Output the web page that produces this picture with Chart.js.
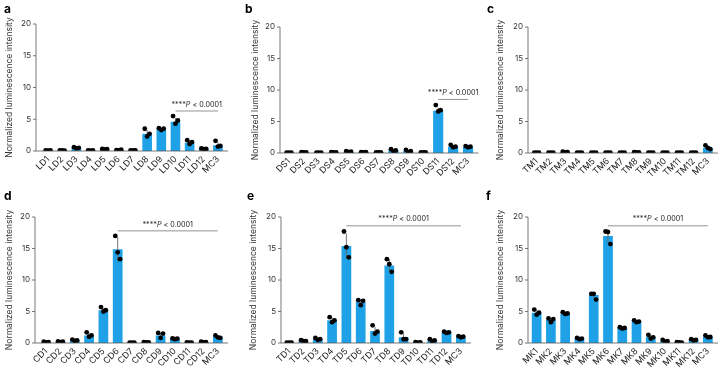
<!DOCTYPE html>
<html>
<head>
<meta charset="utf-8">
<script src="https://cdn.jsdelivr.net/npm/chart.js@4.4.0/dist/chart.umd.min.js"></script>
<style>
body { margin: 0; background: #fff; width: 720px; height: 373px; position: relative; overflow: hidden; }
canvas { position: absolute; }
.tag { position: absolute; font: bold 12px Inter, sans-serif; color: #000; }
</style>
</head>
<body>
<canvas id="pa" width="240" height="186" style="left:0;top:0"></canvas>
<canvas id="pb" width="240" height="186" style="left:240px;top:0"></canvas>
<canvas id="pc" width="240" height="186" style="left:480px;top:0"></canvas>
<canvas id="pd" width="240" height="187" style="left:0;top:186px"></canvas>
<canvas id="pe" width="240" height="187" style="left:240px;top:186px"></canvas>
<canvas id="pf" width="240" height="187" style="left:480px;top:186px"></canvas>
<div class="tag" style="left:4px;top:1px">a</div>
<div class="tag" style="left:245px;top:1px">b</div>
<div class="tag" style="left:487px;top:1px">c</div>
<div class="tag" style="left:4px;top:188px">d</div>
<div class="tag" style="left:247px;top:188px">e</div>
<div class="tag" style="left:486px;top:188px">f</div>
<script>
const BLUE = '#1ea1e6';
const yTicks = [0, 5, 10, 15, 20];
const yTitle = 'Normalized luminescence intensity';

// a
const labelsA = ['LD1','LD2','LD3','LD4','LD5','LD6','LD7','LD8','LD9','LD10','LD11','LD12','MC3'];
const meanA = [0.1, 0.1, 0.5, 0.1, 0.3, 0.15, 0.1, 2.7, 3.4, 4.6, 1.3, 0.35, 0.9];
const repA1 = [0.1, 0.1, 0.6, 0.1, 0.35, 0.15, 0.1, 3.5, 3.6, 5.5, 1.7, 0.4, 1.6];
const repA2 = [0.05, 0.1, 0.4, 0.05, 0.25, 0.1, 0.1, 2.3, 3.3, 4.3, 1.1, 0.3, 0.7];
const repA3 = [0.1, 0.05, 0.5, 0.1, 0.3, 0.2, 0.1, 2.7, 3.5, 4.8, 1.4, 0.35, 0.8];
const errA = [0.05, 0.05, 0.1, 0.05, 0.05, 0.05, 0.02, 0.6, 0.2, 0.6, 0.3, 0.05, 0.5];

// b
const labelsB = ['DS1','DS2','DS3','DS4','DS5','DS6','DS7','DS8','DS9','DS10','DS11','DS12','MC3'];
const meanB = [0.05, 0.1, 0.05, 0.1, 0.2, 0.15, 0.1, 0.4, 0.3, 0.1, 6.7, 1.0, 0.95];
const repB1 = [0.05, 0.15, 0.05, 0.15, 0.3, 0.15, 0.1, 0.6, 0.5, 0.1, 7.6, 1.3, 1.1];
const repB2 = [0.05, 0.1, 0.05, 0.1, 0.15, 0.1, 0.1, 0.3, 0.1, 0.1, 6.6, 0.9, 0.9];
const repB3 = [0.05, 0.1, 0.05, 0.1, 0.2, 0.15, 0.1, 0.4, 0.3, 0.1, 6.8, 1.0, 1.0];
const errB = [0.02, 0.03, 0.02, 0.03, 0.08, 0.03, 0.02, 0.15, 0.2, 0.02, 0.5, 0.2, 0.1];

// c
const labelsC = ['TM1','TM2','TM3','TM4','TM5','TM6','TM7','TM8','TM9','TM10','TM11','TM12','MC3'];
const meanC = [0.05, 0.05, 0.15, 0.05, 0.05, 0.05, 0.05, 0.1, 0.05, 0.05, 0.05, 0.05, 0.8];
const repC1 = [0.05, 0.05, 0.2, 0.05, 0.05, 0.05, 0.05, 0.12, 0.05, 0.05, 0.05, 0.05, 1.2];
const repC2 = [0.05, 0.05, 0.1, 0.05, 0.05, 0.05, 0.05, 0.08, 0.05, 0.05, 0.05, 0.05, 0.8];
const repC3 = [0.05, 0.05, 0.15, 0.05, 0.05, 0.05, 0.05, 0.1, 0.05, 0.05, 0.05, 0.05, 0.6];
const errC = [0.02, 0.02, 0.05, 0.02, 0.02, 0.02, 0.02, 0.03, 0.02, 0.02, 0.02, 0.02, 0.3];

// d
const labelsD = ['CD1','CD2','CD3','CD4','CD5','CD6','CD7','CD8','CD9','CD10','CD11','CD12','MC3'];
const meanD = [0.15, 0.2, 0.4, 1.2, 5.2, 14.9, 0.05, 0.1, 1.2, 0.7, 0.05, 0.15, 1.0];
const repD1 = [0.2, 0.25, 0.55, 1.7, 5.7, 17.0, 0.05, 0.15, 1.6, 0.75, 0.1, 0.2, 1.2];
const repD2 = [0.1, 0.15, 0.35, 1.0, 5.0, 14.4, 0.05, 0.1, 0.8, 0.6, 0.05, 0.1, 0.9];
const repD3 = [0.15, 0.2, 0.4, 1.2, 5.2, 13.3, 0.05, 0.1, 1.5, 0.7, 0.05, 0.15, 0.8];
const errD = [0.05, 0.05, 0.1, 0.35, 0.35, 1.9, 0.02, 0.03, 0.4, 0.08, 0.03, 0.05, 0.2];

// e
const labelsE = ['TD1','TD2','TD3','TD4','TD5','TD6','TD7','TD8','TD9','TD10','TD11','TD12','MC3'];
const meanE = [0.05, 0.35, 0.6, 3.6, 15.4, 6.5, 1.9, 12.3, 0.9, 0.1, 0.4, 1.7, 1.0];
const repE1 = [0.05, 0.45, 0.8, 4.1, 17.7, 6.8, 2.8, 13.3, 1.7, 0.15, 0.6, 1.8, 1.1];
const repE2 = [0.05, 0.3, 0.5, 3.3, 15.2, 6.0, 1.5, 12.5, 0.6, 0.05, 0.3, 1.6, 0.9];
const repE3 = [0.05, 0.3, 0.6, 3.6, 13.6, 6.7, 1.8, 11.3, 0.6, 0.1, 0.4, 1.7, 1.0];
const errE = [0.02, 0.08, 0.15, 0.4, 2.0, 0.45, 0.7, 1.0, 0.6, 0.05, 0.15, 0.1, 0.1];

// f
const labelsF = ['MK1','MK2','MK3','MK4','MK5','MK6','MK7','MK8','MK9','MK10','MK11','MK12','MC3'];
const meanF = [4.8, 3.7, 4.6, 0.7, 7.6, 17.0, 2.4, 3.4, 1.0, 0.3, 0.1, 0.5, 1.0];
const repF1 = [5.3, 3.9, 4.9, 0.8, 7.8, 17.7, 2.5, 3.6, 1.3, 0.5, 0.15, 0.6, 1.2];
const repF2 = [4.5, 3.3, 4.6, 0.6, 7.8, 17.6, 2.3, 3.3, 0.7, 0.2, 0.1, 0.4, 0.9];
const repF3 = [4.8, 3.8, 4.7, 0.7, 6.9, 15.7, 2.4, 3.4, 0.9, 0.3, 0.05, 0.5, 0.95];
const errF = [0.4, 0.3, 0.15, 0.1, 0.5, 1.1, 0.1, 0.2, 0.3, 0.15, 0.05, 0.1, 0.15];

// significance bars: [first category index, height]
const sigA = [9, 6.3];
const sigB = [10, 8.5];
const sigD = [5, 17.8];
const sigE = [4, 18.6];
const sigF = [5, 18.6];

const decor = {
  id: 'decor',
  afterDatasetsUpdate(chart) {
    chart.data.datasets.forEach((ds, i) => {
      if (ds.jitter) chart.getDatasetMeta(i).data.forEach(p => { p.x += ds.jitter; });
    });
  },
  afterDatasetDraw(chart, args) {
    if (args.index !== 0) return;
    const g = chart.options.plugins.decor;
    const {ctx, scales: {x, y}} = chart;
    ctx.save();
    ctx.strokeStyle = '#666';
    ctx.lineWidth = 0.9;
    g.mean.forEach((m, i) => {
      const px = x.getPixelForValue(i);
      ctx.beginPath();
      ctx.moveTo(px, y.getPixelForValue(Math.max(0, m - g.err[i])));
      ctx.lineTo(px, y.getPixelForValue(m + g.err[i]));
      ctx.stroke();
    });
    ctx.restore();
  },
  afterDraw(chart) {
    const g = chart.options.plugins.decor;
    const {ctx, chartArea, scales: {x, y}} = chart;
    const y0 = y.getPixelForValue(0);
    ctx.save();
    ctx.strokeStyle = '#555';
    ctx.lineWidth = 0.8;
    ctx.beginPath();
    ctx.moveTo(g.axis, y.getPixelForValue(20));
    ctx.lineTo(g.axis, y0);
    ctx.lineTo(chartArea.right + 3, y0);
    yTicks.forEach(t => {
      const py = y.getPixelForValue(t);
      ctx.moveTo(g.axis - 3, py);
      ctx.lineTo(g.axis, py);
    });
    ctx.stroke();

    // axis title
    ctx.fillStyle = '#333';
    ctx.font = '8.5px Inter, sans-serif';
    ctx.textAlign = 'center';
    ctx.textBaseline = 'middle';
    ctx.translate(g.titleX, (chartArea.top + chartArea.bottom) / 2);
    ctx.rotate(-Math.PI / 2);
    ctx.fillText(yTitle, 0, 0);
    ctx.restore();

    if (!g.sig) return;
    const x1 = x.getPixelForValue(g.sig[0]);
    const x2 = x.getPixelForValue(g.mean.length - 1);
    const ly = y.getPixelForValue(g.sig[1]);
    ctx.save();
    ctx.strokeStyle = '#777';
    ctx.lineWidth = 0.8;
    ctx.beginPath();
    ctx.moveTo(x1, ly);
    ctx.lineTo(x2, ly);
    ctx.stroke();
    const parts = [['****', '7.2px Inter, sans-serif'], ['P', 'italic 7.2px Inter, sans-serif'], [' < 0.0001', '7.2px Inter, sans-serif']];
    let w = 0;
    parts.forEach(p => { ctx.font = p[1]; w += ctx.measureText(p[0]).width; });
    let tx = (x1 + x2) / 2 - w / 2;
    ctx.fillStyle = '#222';
    ctx.textBaseline = 'middle';
    parts.forEach(p => { ctx.font = p[1]; ctx.fillText(p[0], tx, ly - 6.5); tx += ctx.measureText(p[0]).width; });
    ctx.restore();
  }
};

function panel(id, labels, mean, reps, err, sig, g) {
  const canvas = document.getElementById(id);
  const H = canvas.height;
  const datasets = [{
    type: 'bar', data: mean, backgroundColor: BLUE, borderWidth: 0,
    barPercentage: 0.68, categoryPercentage: 1, order: 3
  }];
  reps.forEach((r, k) => datasets.push({
    type: 'line', data: r, showLine: false, pointRadius: 2.4,
    pointBackgroundColor: '#000', pointBorderWidth: 0, order: 1, jitter: (k - 1) * 2.4
  }));
  new Chart(canvas, {
    type: 'bar',
    data: {labels: labels, datasets: datasets},
    options: {
      responsive: false,
      animation: false,
      events: [],
      layout: {padding: {top: g.top, right: canvas.width - g.right, left: 0, bottom: 0}},
      plugins: {
        legend: {display: false},
        tooltip: {enabled: false},
        decor: {axis: g.axis, titleX: g.titleX, mean: mean, err: err, sig: sig}
      },
      scales: {
        x: {
          grid: {display: false, drawTicks: false},
          border: {display: false},
          ticks: {autoSkip: false, minRotation: 45, maxRotation: 45, padding: 3, color: '#222',
                  font: {family: 'Inter, sans-serif', size: 8.8}},
          afterFit: s => { s.height = H - g.bottom; }
        },
        y: {
          min: 0, max: 20,
          grid: {display: false, drawTicks: false},
          border: {display: false},
          ticks: {stepSize: 5, padding: g.left - g.axis + 5, color: '#333',
                  font: {family: 'Inter, sans-serif', size: 8}},
          afterFit: s => { s.width = g.left; }
        }
      }
    },
    plugins: [decor]
  });
}

panel('pa', labelsA, meanA, [repA1, repA2, repA3], errA, sigA, {axis: 36, left: 41, right: 225, top: 24, bottom: 151, titleX: 9});
panel('pb', labelsB, meanB, [repB1, repB2, repB3], errB, sigB, {axis: 40, left: 41.5, right: 235.5, top: 27, bottom: 153, titleX: 15});
panel('pc', labelsC, meanC, [repC1, repC2, repC3], errC, null, {axis: 48, left: 49.5, right: 235, top: 27, bottom: 153, titleX: 20});
panel('pd', labelsD, meanD, [repD1, repD2, repD3], errD, sigD, {axis: 35, left: 39, right: 225, top: 31, bottom: 157, titleX: 9});
panel('pe', labelsE, meanE, [repE1, repE2, repE3], errE, sigE, {axis: 41, left: 42, right: 228, top: 31, bottom: 157, titleX: 13});
panel('pf', labelsF, meanF, [repF1, repF2, repF3], errF, sigF, {axis: 48, left: 49.5, right: 235, top: 31, bottom: 157, titleX: 20});
</script>
</body>
</html>
